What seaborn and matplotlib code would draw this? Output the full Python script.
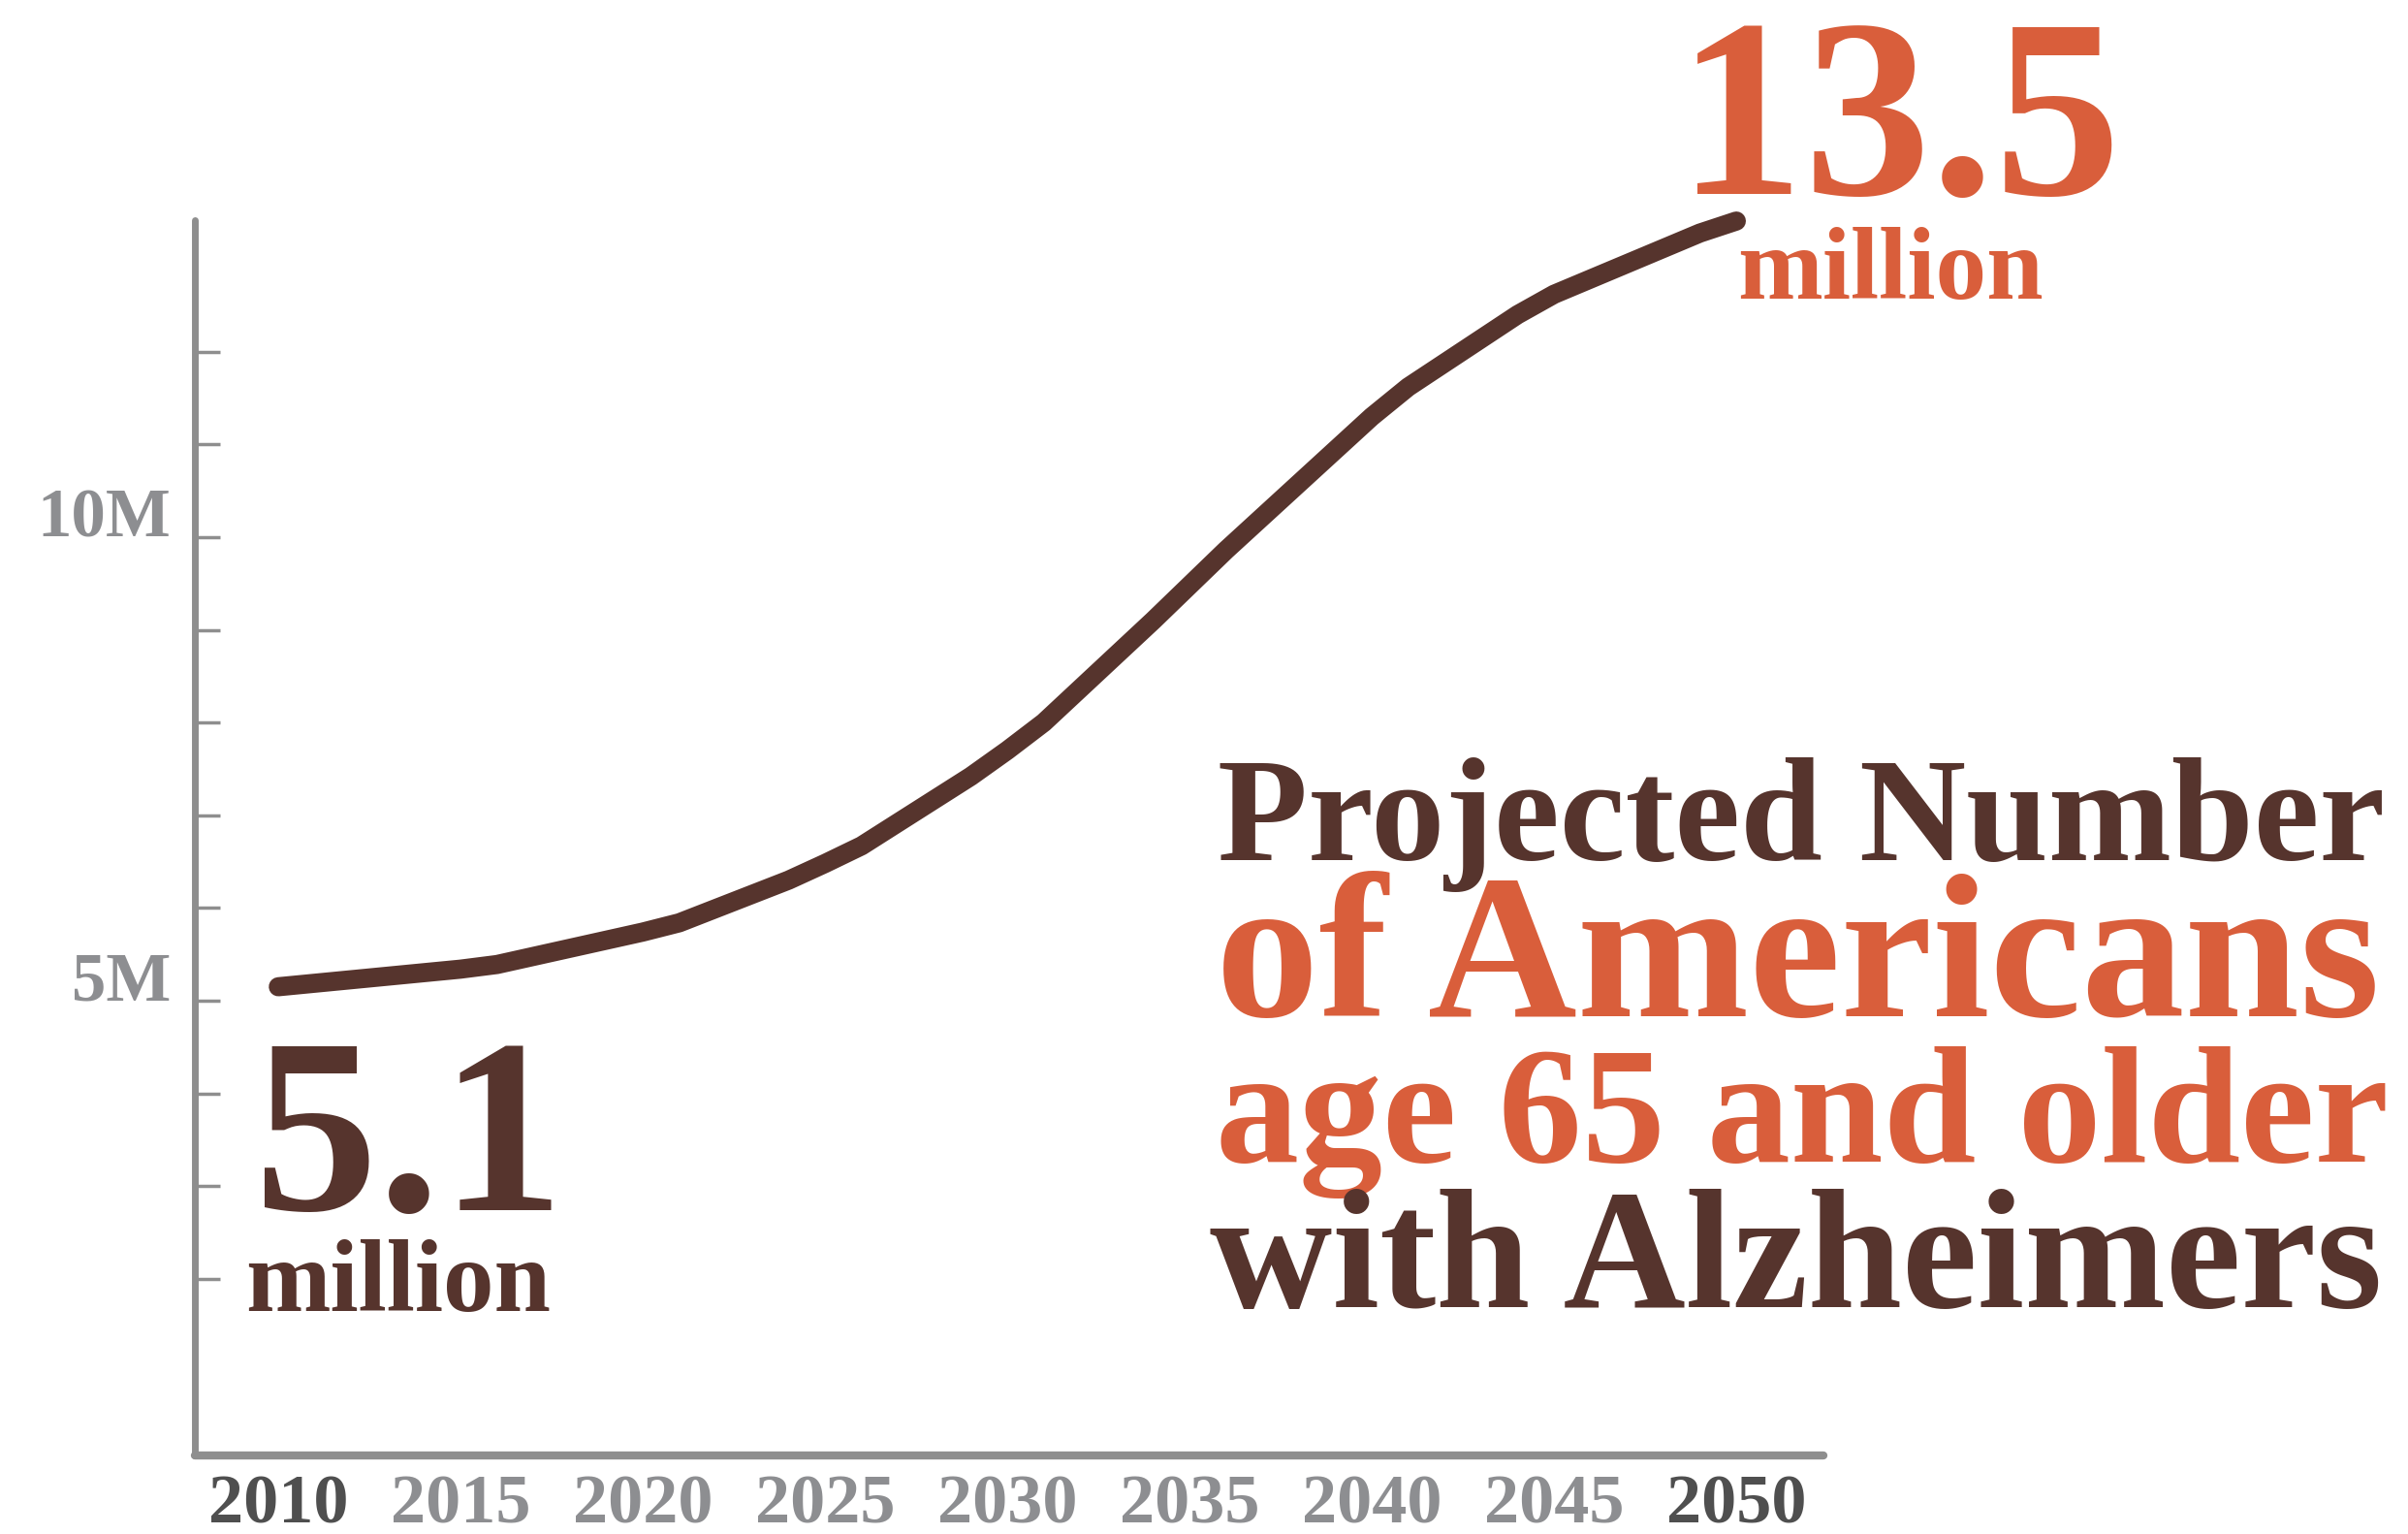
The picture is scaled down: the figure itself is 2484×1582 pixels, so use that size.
import matplotlib
matplotlib.use("Agg")
import matplotlib.pyplot as plt
import seaborn as sns
import pandas as pd
from matplotlib.ticker import FixedLocator, FixedFormatter

# ---------------- data ----------------
years = [2010, 2015, 2016, 2020, 2021, 2024, 2025, 2026, 2029, 2030,
         2031, 2034, 2035, 2036, 2040, 2041, 2044, 2045, 2049, 2050]
millions = [5.15, 5.34, 5.39, 5.74, 5.84, 6.30, 6.48, 6.67, 7.42, 7.70,
            8.00, 9.10, 9.48, 9.86, 11.30, 11.62, 12.40, 12.62, 13.28, 13.41]
x_tick_years = [2010, 2015, 2020, 2025, 2030, 2035, 2040, 2045, 2050]
y_major_ticks = [5, 10]
y_major_labels = ["5M", "10M"]
y_minor_ticks = [2, 3, 4, 6, 7, 8, 9, 11, 12]
start_label = "5.1"
end_label = "13.5"
unit_label = "million"
title_lines = ["Projected Number", "of Americans", "age 65 and older", "with Alzheimers"]

# ---------------- style ----------------
BROWN = "#56342D"
ORANGE = "#D95E3B"
AXGREY = "#8E8E8E"
LABGREY = "#8D8E91"
DARKLAB = "#4F4F4F"

W, H, DPI = 2484, 1582, 100
sns.set_theme(style="white")
plt.rcParams["font.family"] = ["Liberation Serif", "DejaVu Serif"]
plt.rcParams["font.weight"] = "bold"

fig = plt.figure(figsize=(W / DPI, H / DPI), dpi=DPI)
fig.patch.set_facecolor("white")

# axes placement (pixel based)
ax_left, ax_right, ax_bottom, ax_top = 201, 1881, 1501, 227
ax = fig.add_axes([ax_left / W, 1 - ax_bottom / H,
                   (ax_right - ax_left) / W, (ax_bottom - ax_top) / H])
ax.set_facecolor("white")

df = pd.DataFrame({"year": years, "millions": millions})
sns.lineplot(data=df, x="year", y="millions", ax=ax, color=BROWN)
for ln in ax.lines:
    ln.set_linewidth(14.2)
    ln.set_solid_capstyle("round")
    ln.set_solid_joinstyle("round")
    ln.set_clip_on(False)
    ln.set_zorder(5)

ax.set_xlim(2007.71, 2052.39)
ax.set_ylim(0.094, 13.42)
ax.set_xlabel("")
ax.set_ylabel("")

for side in ["top", "right"]:
    ax.spines[side].set_visible(False)
ax.spines["left"].set_linewidth(5.0)
ax.spines["bottom"].set_linewidth(6.0)
for side in ["left", "bottom"]:
    ax.spines[side].set_color(AXGREY)
    ax.spines[side].set_capstyle("round")

# x ticks
ax.xaxis.set_major_locator(FixedLocator(x_tick_years))
ax.xaxis.set_major_formatter(FixedFormatter([str(y) for y in x_tick_years]))
ax.tick_params(axis="x", which="major", direction="in", length=15, width=2.2,
               color=AXGREY, pad=14, labelsize=52, labelcolor=LABGREY)
for lbl in ax.get_xticklabels():
    lbl.set_fontweight("bold")
    if lbl.get_text() in ("2010", "2050"):
        lbl.set_color(DARKLAB)

# y ticks
ax.yaxis.set_major_locator(FixedLocator(y_major_ticks))
ax.yaxis.set_major_formatter(FixedFormatter(y_major_labels))
ax.yaxis.set_minor_locator(FixedLocator(y_minor_ticks))
ax.tick_params(axis="y", which="both", direction="in", length=19, width=2.5,
               color=AXGREY, left=True)
ax.tick_params(axis="y", which="major", pad=18, labelsize=51, labelcolor=LABGREY)
for lbl in ax.get_yticklabels():
    lbl.set_fontweight("bold")
    lbl.set_va("baseline")
ax.grid(False)

renderer = fig.canvas.get_renderer()


def fit_text(x0, x1, y_base, s, color):
    t = fig.text(x0 / W, 1 - y_base / H, s, fontsize=100, color=color,
                 fontweight="bold", ha="left", va="baseline")
    bb = t.get_window_extent(renderer)
    t.set_fontsize(100 * (x1 - x0) / bb.width)
    return t


# big value labels
fit_text(1730, 2188, 200, end_label, ORANGE)
fit_text(1792, 2108, 308, unit_label, ORANGE)
fit_text(262, 582, 1248, start_label, BROWN)
fit_text(253, 568, 1352, unit_label, BROWN)

# title block (justified lines)
title_colors = [BROWN, ORANGE, ORANGE, BROWN]
title_x0 = [1256, 1254, 1254, 1248]
title_x1 = [2460, 2455, 2465, 2458]
title_base = [887, 1048, 1198, 1348]
for s, c, a, b, yb in zip(title_lines, title_colors, title_x0, title_x1, title_base):
    fit_text(a, b, yb, s, c)

fig.savefig("out.png", dpi=DPI, facecolor="white")
